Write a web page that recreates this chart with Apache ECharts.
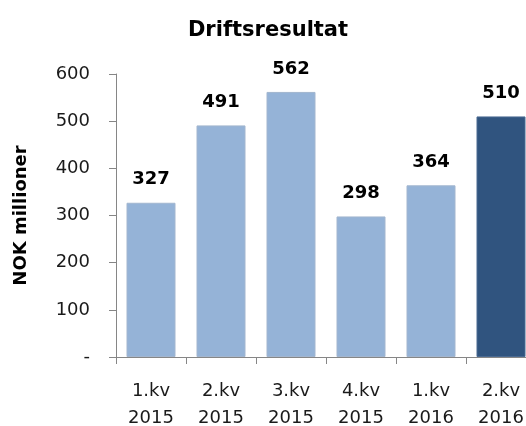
<!DOCTYPE html>
<html><head><meta charset="utf-8">
<script src="https://cdn.jsdelivr.net/npm/echarts@6/dist/echarts.min.js"></script>
<style>html,body{margin:0;padding:0;background:#fff}#c{width:526px;height:426px}</style>
</head><body><div id="c"></div>
<script>
var categories = ['1.kv\n2015', '2.kv\n2015', '3.kv\n2015', '4.kv\n2015', '1.kv\n2016', '2.kv\n2016'];
var values = [327, 491, 562, 298, 364, 510];
var highlightIndex = 5;
var yTicks = [0, 100, 200, 300, 400, 500, 600];

var FONT = '"DejaVu Sans", sans-serif';
var chart = echarts.init(document.getElementById('c'));
chart.setOption({
  animation: false,
  title: {
    text: 'Driftsresultat', left: 263, top: 15, textAlign: 'center',
    textStyle: { fontFamily: FONT, fontSize: 21, fontWeight: 'bold', color: '#000' }
  },
  grid: { left: 116, width: 420, top: 74, height: 283, containLabel: false, outerBoundsMode: 'none' },
  xAxis: {
    type: 'category', data: categories,
    axisLine: { lineStyle: { color: '#868686' } },
    axisTick: { show: true, length: 7, lineStyle: { color: '#868686' } },
    axisLabel: { fontFamily: FONT, fontSize: 18, color: '#1a1a1a', lineHeight: 27, margin: 21, interval: 0 }
  },
  yAxis: {
    type: 'value', min: yTicks[0], max: yTicks[yTicks.length - 1], interval: 100,
    name: 'NOK millioner', nameLocation: 'middle', nameGap: 86, nameRotate: 90,
    nameTextStyle: { fontFamily: FONT, fontSize: 18, fontWeight: 'bold', color: '#000' },
    axisLine: { show: true, lineStyle: { color: '#868686' } },
    axisTick: { show: true, length: 7, lineStyle: { color: '#868686' } },
    splitLine: { show: false },
    axisLabel: {
      fontFamily: FONT, fontSize: 18, color: '#1a1a1a', margin: 26,
      formatter: function (v) { return v === 0 ? '-' : String(v); }
    }
  },
  series: [{
    type: 'bar', barCategoryGap: '30%',
    data: values.map(function (v, i) {
      return {
        value: v,
        itemStyle: i === highlightIndex
          ? { color: '#30547F', borderColor: '#4A6A92', borderWidth: 1 }
          : { color: '#95B3D7', borderColor: '#A3B6CF', borderWidth: 1 }
      };
    }),
    label: {
      show: true, position: 'top', distance: 14,
      fontFamily: FONT, fontSize: 18, fontWeight: 'bold', color: '#000'
    }
  }]
});
</script></body></html>
